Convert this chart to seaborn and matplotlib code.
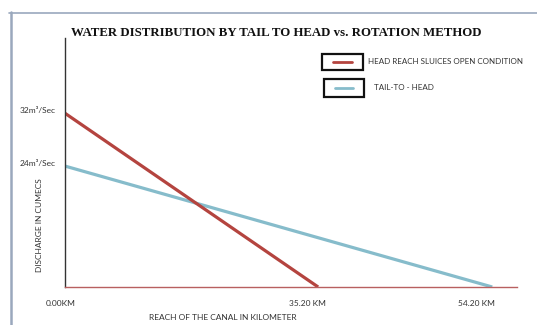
import numpy as np
import pandas as pd
import matplotlib
matplotlib.use("Agg")
import matplotlib.pyplot as plt
import seaborn as sns
from matplotlib.patches import Rectangle
from matplotlib.lines import Line2D
from matplotlib.transforms import ScaledTranslation

# ---- data ----
series_names = ["HEAD REACH SLUICES OPEN CONDITION", "TAIL-TO - HEAD"]
head_km = [0.0, 35.2]
head_q = [32, 0]
tail_km = [0.0, 54.2]
tail_q = [24, 0]
x_ticks = [0.0, 35.2, 54.2]
x_tick_labels = ["0.00KM", "35.20 KM", "54.20 KM"]
y_ticks = [24, 32]
y_tick_labels = ["24m³/Sec", "32m³/Sec"]
title = "WATER DISTRIBUTION BY TAIL TO HEAD vs. ROTATION METHOD"
x_label = "REACH OF THE CANAL IN KILOMETER"
y_label = "DISCHARGE IN CUMECS"

df = pd.DataFrame({
    "km": head_km + tail_km,
    "q": head_q + tail_q,
    "series": [series_names[0]] * len(head_km) + [series_names[1]] * len(tail_km),
})

colors = {series_names[0]: "#b4443f", series_names[1]: "#86bccb"}

sns.set_style("white")
plt.rcParams["font.family"] = ["Lato", "DejaVu Sans"]

W, H = 537, 325
fig = plt.figure(figsize=(W / 100, H / 100), dpi=100)
fig.patch.set_facecolor("white")

def px(x, y):
    return x / W, 1 - y / H

ax_l, ax_r, ax_t, ax_b = 64.5, 517, 38, 287
ax = fig.add_axes([ax_l / W, 1 - ax_b / H, (ax_r - ax_l) / W, (ax_b - ax_t) / H])

# schematic (piecewise) scales as in the original drawing
def make_scale(src, dst):
    src = np.asarray(src, float)
    dst = np.asarray(dst, float)
    def fwd(v):
        v = np.asarray(v, float)
        out = np.interp(v, src, dst)
        lo = v < src[0]
        hi = v > src[-1]
        s0 = (dst[1] - dst[0]) / (src[1] - src[0])
        s1 = (dst[-1] - dst[-2]) / (src[-1] - src[-2])
        out = np.where(lo, dst[0] + (v - src[0]) * s0, out)
        out = np.where(hi, dst[-1] + (v - src[-1]) * s1, out)
        return out
    def inv(u):
        u = np.asarray(u, float)
        out = np.interp(u, dst, src)
        lo = u < dst[0]
        hi = u > dst[-1]
        s0 = (src[1] - src[0]) / (dst[1] - dst[0])
        s1 = (src[-1] - src[-2]) / (dst[-1] - dst[-2])
        out = np.where(lo, src[0] + (u - dst[0]) * s0, out)
        out = np.where(hi, src[-1] + (u - dst[-1]) * s1, out)
        return out
    return fwd, inv

ax.set_xscale("function", functions=make_scale([0, 35.2, 54.2], [0, 253.5, 427.5]))
ax.set_yscale("function", functions=make_scale([0, 24, 32], [0, 121, 174]))

sns.lineplot(data=df, x="km", y="q", hue="series", palette=colors, ax=ax,
             legend=False, linewidth=2.3, hue_order=series_names[::-1])
for ln in ax.lines:
    ln.set_solid_capstyle("butt")

ax.set_xlim(0, 56.9)
ax.set_ylim(0, 43.3)

for s in ["top", "right"]:
    ax.spines[s].set_visible(False)
ax.spines["left"].set_color("#333333")
ax.spines["left"].set_linewidth(1.0)
ax.spines["bottom"].set_color("#b86060")
ax.spines["bottom"].set_linewidth(1.0)

ax.set_xticks(x_ticks)
ax.set_xticklabels(x_tick_labels)
ax.set_yticks(y_ticks)
ax.set_yticklabels(y_tick_labels)
ax.tick_params(axis="both", length=0, labelsize=6, labelcolor="#333333")
ax.tick_params(axis="x", pad=9.5)
ax.tick_params(axis="y", pad=6.5)
for lab, dx in zip(ax.get_xticklabels(), [-4, -11, -16]):
    lab.set_transform(lab.get_transform() + ScaledTranslation(dx / 100, 0, fig.dpi_scale_trans))
for lab in ax.get_yticklabels():
    lab.set_transform(lab.get_transform() + ScaledTranslation(0, 3 / 100, fig.dpi_scale_trans))

ax.set_xlabel(x_label, fontsize=6, color="#333333")
ax.xaxis.set_label_coords((223 - ax_l) / (ax_r - ax_l), -(318 - ax_b) / (ax_b - ax_t))
ax.xaxis.label.set_va("center")
ax.set_ylabel(y_label, fontsize=6, color="#333333")
ax.yaxis.set_label_coords((40 - ax_l) / (ax_r - ax_l), (ax_b - 225) / (ax_b - ax_t))
ax.yaxis.label.set_va("center")

# title
fig.text(*px(276, 33), title, ha="center", va="center", fontsize=9.3,
         fontweight="bold", family=["Liberation Serif", "DejaVu Serif"], color="#111111")

# frame border
fig.add_artist(Line2D([px(9, 0)[0], 1.0], [px(0, 12.5)[1]] * 2, color="#9aa8bd", lw=1.2))
fig.add_artist(Line2D([px(10.5, 0)[0]] * 2, [0, px(0, 12)[1]], color="#9aa8bd", lw=1.8))

# legend (boxed keys)
legend_items = [
    (series_names[0], (322, 54, 363, 70), 368),
    (series_names[1], (324, 79, 364, 97), 374),
]
for name, (x0, y0, x1, y1), tx in legend_items:
    fx0, fy1 = px(x0, y0)
    fx1, fy0 = px(x1, y1)
    fig.add_artist(Rectangle((fx0, fy0), fx1 - fx0, fy1 - fy0, fill=False,
                             edgecolor="#111111", lw=1.6))
    cy = (y0 + y1) / 2
    fig.add_artist(Line2D([px(x0 + 11, 0)[0], px(x1 - 11, 0)[0]], [px(0, cy)[1]] * 2,
                          color=colors[name], lw=2.0))
    fig.text(*px(tx, cy), name, ha="left", va="center", fontsize=5.8, color="#333333")

fig.savefig("out.png", dpi=100, facecolor="white")
